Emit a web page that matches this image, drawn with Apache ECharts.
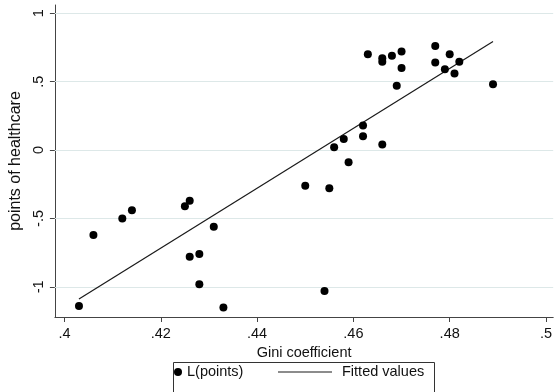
<!DOCTYPE html>
<html>
<head>
<meta charset="utf-8">
<script src="https://cdn.jsdelivr.net/npm/echarts@6/dist/echarts.min.js"></script>
<style>
  html, body { margin: 0; padding: 0; background: #fff; }
  #chart { width: 555px; height: 392px; }
</style>
</head>
<body>
<div id="chart"></div>
<script>
// Gini coefficient (x) vs lagged points of healthcare (y)
const gini = [0.403, 0.406, 0.412, 0.414, 0.425, 0.426, 0.431, 0.426, 0.428, 0.428, 0.433,
  0.450, 0.455, 0.454, 0.463, 0.466, 0.466, 0.468, 0.470, 0.470, 0.469, 0.477, 0.477,
  0.480, 0.482, 0.479, 0.481, 0.489, 0.462, 0.462, 0.458, 0.456, 0.459, 0.466]
const points = [-1.14, -0.62, -0.50, -0.44, -0.41, -0.37, -0.56, -0.78, -0.76, -0.98, -1.15,
  -0.26, -0.28, -1.03, 0.70, 0.67, 0.645, 0.69, 0.72, 0.60, 0.47, 0.76, 0.64,
  0.70, 0.645, 0.59, 0.56, 0.48, 0.18, 0.10, 0.08, 0.02, -0.09, 0.04]
const fitX = [0.403, 0.489]
const fitY = [-1.088, 0.793]
const xTicks = [0.4, 0.42, 0.44, 0.46, 0.48, 0.5]
const yTicks = [-1, -0.5, 0, 0.5, 1]

const fmt = (v) => {
  const s = String(+(+v).toFixed(2))
  return s.replace(/^(-?)0\./, '$1.')
}

const font = 'Arial, "Liberation Sans", sans-serif'
const axisColor = '#444'

const chart = echarts.init(document.getElementById('chart'))
chart.setOption({
  backgroundColor: '#fff',
  animation: false,
  grid: { left: 53, right: 0, top: 5, bottom: 75 },
  xAxis: {
    type: 'value',
    min: 0.398,
    max: 0.5015,
    name: 'Gini coefficient',
    nameLocation: 'middle',
    nameGap: 25,
    nameTextStyle: { color: '#111', fontSize: 14.5, fontFamily: font },
    axisLine: { onZero: false, lineStyle: { color: axisColor, width: 1 } },
    axisTick: { customValues: xTicks, length: 5, lineStyle: { color: axisColor } },
    axisLabel: {
      customValues: xTicks,
      formatter: fmt,
      color: '#111',
      fontSize: 14.5,
      fontFamily: font,
      margin: 9,
    },
    splitLine: { show: false },
  },
  yAxis: {
    type: 'value',
    min: -1.22,
    max: 1.06,
    name: 'points of healthcare',
    nameLocation: 'middle',
    nameRotate: 90,
    nameGap: 27,
    nameTextStyle: { color: '#111', fontSize: 16, fontFamily: font },
    axisLine: { show: true, onZero: false, lineStyle: { color: axisColor, width: 1 } },
    axisTick: { show: true, customValues: yTicks, length: 5, lineStyle: { color: axisColor } },
    axisLabel: {
      customValues: yTicks,
      formatter: fmt,
      rotate: 90,
      color: '#111',
      fontSize: 14.5,
      fontFamily: font,
      margin: 8,
    },
    splitLine: { show: false },
  },
  legend: [
    {
      data: [{ name: 'L(points)', icon: 'circle' }],
      left: 174,
      top: 364,
      padding: 0,
      itemWidth: 8,
      itemHeight: 8,
      textStyle: { color: '#111', fontSize: 14.5, fontFamily: font, lineHeight: 16 },
    },
    {
      data: [{ name: 'Fitted values', icon: 'path://M0,0H54V1.2H0Z' }],
      left: 278,
      top: 364,
      padding: 0,
      itemWidth: 54,
      itemHeight: 14,
      textStyle: { color: '#111', fontSize: 14.5, fontFamily: font, lineHeight: 16, padding: [0, 0, 0, 5] },
    },
  ],
  graphic: [
    {
      type: 'rect',
      shape: { x: 173.5, y: 362.5, width: 261, height: 40 },
      style: { fill: 'none', stroke: '#333', lineWidth: 1 },
      silent: true,
    },
  ],
  series: [
    {
      name: 'L(points)',
      type: 'scatter',
      symbol: 'circle',
      symbolSize: 8,
      itemStyle: { color: '#000', opacity: 1 },
      data: gini.map((g, i) => [g, points[i]]),
      z: 3,
    },
    {
      name: 'Fitted values',
      type: 'line',
      symbol: 'none',
      lineStyle: { color: '#1a1a1a', width: 1.2 },
      itemStyle: { color: '#1a1a1a' },
      data: fitX.map((x, i) => [x, fitY[i]]),
      z: 2,
      markLine: {
        silent: true,
        symbol: 'none',
        z: 1,
        label: { show: false },
        lineStyle: { color: '#dde8e8', width: 1, type: 'solid' },
        data: yTicks.map((v) => ({ yAxis: v })),
      },
    },
  ],
})
</script>
</body>
</html>
